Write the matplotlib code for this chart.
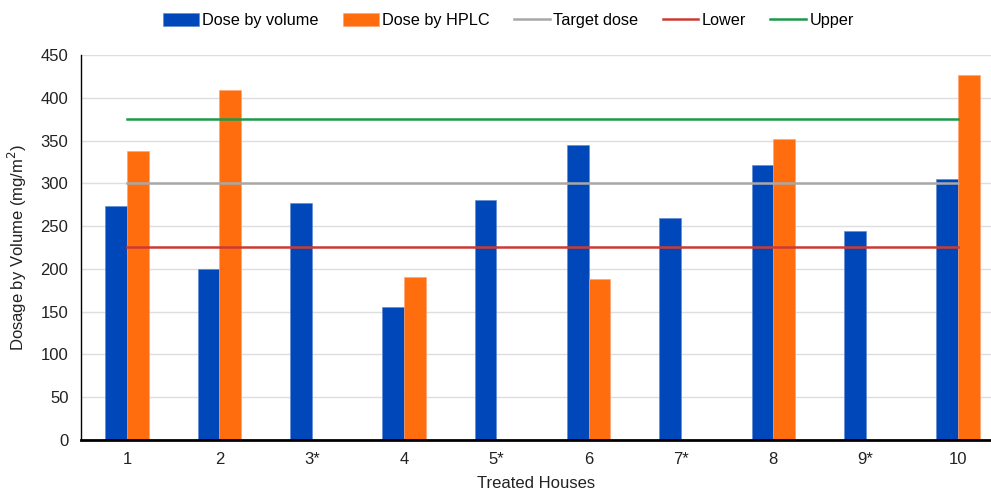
import matplotlib
matplotlib.use("Agg")
import matplotlib.pyplot as plt
import numpy as np

plt.rcParams['font.family'] = ['Liberation Sans', 'DejaVu Sans']

categories = ["1", "2", "3*", "4", "5*", "6", "7*", "8", "9*", "10"]
dose_volume = [273, 200, 277, 155, 281, 345, 260, 322, 244, 305]
dose_hplc = [338, 409, np.nan, 191, np.nan, 188, np.nan, 352, np.nan, 427]
target = 300
lower = 225
upper = 375

blue = "#0048b9"
orange = "#ff6d0f"
gray = "#a8a8a8"
red = "#cc3b32"
green = "#1a9a4a"

fig = plt.figure(figsize=(9.91, 4.91), dpi=100)
ax = fig.add_axes([0.0817, 0.1045, 0.9183, 0.7829])

x = np.arange(1, len(categories) + 1)
w = 0.235
b1 = ax.bar(x - w / 2, dose_volume, width=w, color=blue, edgecolor="#5a85d0", linewidth=0.4, zorder=2, label="Dose by volume")
hp = np.array(dose_hplc, dtype=float)
b2 = ax.bar(x + w / 2, np.nan_to_num(hp), width=w, color=orange, edgecolor="#ffa070", linewidth=0.4, zorder=2, label="Dose by HPLC")

l1, = ax.plot([x[0], x[-1]], [target, target], color=gray, lw=1.8, zorder=3, label="Target dose")
l2, = ax.plot([x[0], x[-1]], [lower, lower], color=red, lw=1.8, zorder=3, label="Lower")
l3, = ax.plot([x[0], x[-1]], [upper, upper], color=green, lw=1.8, zorder=3, label="Upper")

ax.set_xlim(0.5, 0.5 + 910 / 92.3)
ax.set_ylim(0, 450)
ax.set_yticks(np.arange(0, 451, 50))
ax.set_xticks(x)
ax.set_xticklabels(categories)
ax.grid(axis="y", color="#dedede", lw=1.0, zorder=0)
ax.set_axisbelow(True)
ax.tick_params(length=0, labelsize=12, colors="#222222", pad=9)
for s in ["top", "right"]:
    ax.spines[s].set_visible(False)
ax.spines["left"].set_color("black")
ax.spines["left"].set_linewidth(1.0)
ax.spines["bottom"].set_color("black")
ax.spines["bottom"].set_linewidth(2.0)
ax.spines["bottom"].set_zorder(4)

ax.set_xlabel("Treated Houses", fontsize=12, color="#222222", labelpad=6)
ax.set_ylabel("Dosage by Volume (mg/m$^2$)", fontsize=12, color="#222222", labelpad=8)

fig.legend(handles=[b1, b2, l1, l2, l3], loc="center", bbox_to_anchor=(0.513, 0.958), ncol=5,
           frameon=False, fontsize=11.7, handlelength=2.2, handleheight=0.8, columnspacing=1.5,
           handletextpad=0.2)

fig.savefig("out.png", dpi=100)
